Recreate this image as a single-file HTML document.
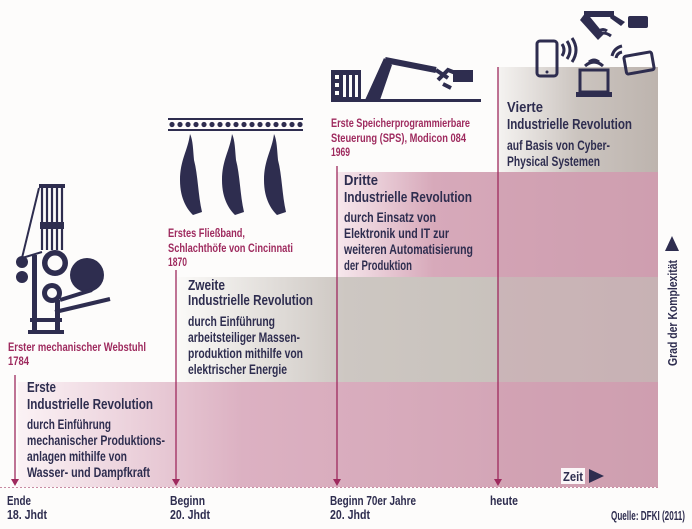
<!DOCTYPE html>
<html><head><meta charset="utf-8"><style>
html,body{margin:0;padding:0;background:#fdfcfb;}
svg{display:block;}
text{font-family:"Liberation Sans Narrow","Liberation Sans",sans-serif;}
.t{font-weight:bold;font-size:15px;fill:#2e2d4f;}
.b{font-size:13.5px;fill:#2e2d4f;font-weight:bold;}
.m{font-size:12px;fill:#9e2a5e;font-weight:bold;}
.k{font-size:12.5px;fill:#2e2d4f;font-weight:bold;}
</style></head><body>
<svg width="692" height="529" viewBox="0 0 692 529" xmlns="http://www.w3.org/2000/svg">
<defs>
<linearGradient id="p1" x1="0" x2="1"><stop offset="0" stop-color="#fbf2f5"/><stop offset="0.35" stop-color="#dcb1c2"/><stop offset="1" stop-color="#cf9fb0"/></linearGradient>
<linearGradient id="g2" x1="0" x2="1"><stop offset="0" stop-color="#fbfaf8"/><stop offset="0.35" stop-color="#cdc7c2"/><stop offset="1" stop-color="#c4bdb7"/></linearGradient>
<linearGradient id="p3" x1="0" x2="1"><stop offset="0" stop-color="#f7e8ed"/><stop offset="0.3" stop-color="#d7a9ba"/><stop offset="1" stop-color="#cf9fb0"/></linearGradient>
<linearGradient id="g4" x1="0" x2="1"><stop offset="0" stop-color="#f5f3f1"/><stop offset="0.5" stop-color="#cbc4bf"/><stop offset="1" stop-color="#bdb4ae"/></linearGradient>
</defs>
<rect width="692" height="529" fill="#fdfcfb"/>
<rect x="18" y="382" width="640" height="105" fill="url(#p1)"/>
<rect x="177" y="277" width="481" height="105" fill="url(#g2)"/>
<rect x="337" y="172" width="321" height="105" fill="url(#p3)"/>
<rect x="498" y="67" width="160" height="105" fill="url(#g4)"/>
<rect x="498" y="172" width="160" height="315" fill="#cf9fb0" opacity="0.35"/>
<line x1="0" y1="487.5" x2="660" y2="487.5" stroke="#c88aa2" stroke-width="1" stroke-dasharray="2,2"/>
<g stroke="#9e2a5e" stroke-width="1.3">
<line x1="15" y1="375" x2="15" y2="480"/>
<line x1="176" y1="270" x2="176" y2="480"/>
<line x1="337" y1="166" x2="337" y2="480"/>
<line x1="498" y1="67" x2="498" y2="480"/>
</g>
<g fill="#9e2a5e">
<polygon points="11,479 19,479 15,486"/>
<polygon points="172,479 180,479 176,486"/>
<polygon points="333,479 341,479 337,486"/>
<polygon points="494,479 502,479 498,486"/>
</g>
<!-- Block 1 -->
<text class="m" x="8" y="351" textLength="138" lengthAdjust="spacingAndGlyphs">Erster mechanischer Webstuhl</text>
<text class="m" x="8" y="365" textLength="21" lengthAdjust="spacingAndGlyphs">1784</text>
<text class="t" x="27" y="392" textLength="29" lengthAdjust="spacingAndGlyphs">Erste</text>
<text class="t" x="27" y="409" textLength="126" lengthAdjust="spacingAndGlyphs">Industrielle Revolution</text>
<text class="b" x="27" y="429" textLength="84" lengthAdjust="spacingAndGlyphs">durch Einführung</text>
<text class="b" x="27" y="445" textLength="138" lengthAdjust="spacingAndGlyphs">mechanischer Produktions-</text>
<text class="b" x="27" y="461" textLength="100" lengthAdjust="spacingAndGlyphs">anlagen mithilfe von</text>
<text class="b" x="27" y="477" textLength="123" lengthAdjust="spacingAndGlyphs">Wasser- und Dampfkraft</text>
<!-- Block 2 -->
<text class="m" x="168" y="237" textLength="77" lengthAdjust="spacingAndGlyphs">Erstes Fließband,</text>
<text class="m" x="168" y="252" textLength="125" lengthAdjust="spacingAndGlyphs">Schlachthöfe von Cincinnati</text>
<text class="m" x="168" y="266" textLength="19" lengthAdjust="spacingAndGlyphs">1870</text>
<text class="t" x="188" y="290" textLength="37" lengthAdjust="spacingAndGlyphs">Zweite</text>
<text class="t" x="188" y="305" textLength="125" lengthAdjust="spacingAndGlyphs">Industrielle Revolution</text>
<text class="b" x="188" y="326" textLength="87" lengthAdjust="spacingAndGlyphs">durch Einführung</text>
<text class="b" x="188" y="342" textLength="112" lengthAdjust="spacingAndGlyphs">arbeitsteiliger Massen-</text>
<text class="b" x="188" y="358" textLength="115" lengthAdjust="spacingAndGlyphs">produktion mithilfe von</text>
<text class="b" x="188" y="374" textLength="99" lengthAdjust="spacingAndGlyphs">elektrischer Energie</text>
<!-- Block 3 -->
<text class="m" x="331" y="127" textLength="139" lengthAdjust="spacingAndGlyphs">Erste Speicherprogrammierbare</text>
<text class="m" x="331" y="142" textLength="135" lengthAdjust="spacingAndGlyphs">Steuerung (SPS), Modicon 084</text>
<text class="m" x="331" y="156" textLength="19" lengthAdjust="spacingAndGlyphs">1969</text>
<text class="t" x="344" y="185" textLength="34" lengthAdjust="spacingAndGlyphs">Dritte</text>
<text class="t" x="344" y="202" textLength="128" lengthAdjust="spacingAndGlyphs">Industrielle Revolution</text>
<text class="b" x="344" y="222" textLength="92" lengthAdjust="spacingAndGlyphs">durch Einsatz von</text>
<text class="b" x="344" y="238" textLength="105" lengthAdjust="spacingAndGlyphs">Elektronik und IT zur</text>
<text class="b" x="344" y="254" textLength="129" lengthAdjust="spacingAndGlyphs">weiteren Automatisierung</text>
<text class="b" x="344" y="270" textLength="68" lengthAdjust="spacingAndGlyphs">der Produktion</text>
<!-- Block 4 -->
<text class="t" x="507" y="112" textLength="36" lengthAdjust="spacingAndGlyphs">Vierte</text>
<text class="t" x="507" y="129" textLength="125" lengthAdjust="spacingAndGlyphs">Industrielle Revolution</text>
<text class="b" x="507" y="150" textLength="103" lengthAdjust="spacingAndGlyphs">auf Basis von Cyber-</text>
<text class="b" x="507" y="166" textLength="93" lengthAdjust="spacingAndGlyphs">Physical Systemen</text>
<!-- bottom labels -->
<text class="k" x="7" y="505" textLength="24" lengthAdjust="spacingAndGlyphs">Ende</text>
<text class="k" x="7" y="519" textLength="40" lengthAdjust="spacingAndGlyphs">18. Jhdt</text>
<text class="k" x="170" y="505" textLength="35" lengthAdjust="spacingAndGlyphs">Beginn</text>
<text class="k" x="170" y="519" textLength="40" lengthAdjust="spacingAndGlyphs">20. Jhdt</text>
<text class="k" x="330" y="505" textLength="86" lengthAdjust="spacingAndGlyphs">Beginn 70er Jahre</text>
<text class="k" x="330" y="519" textLength="40" lengthAdjust="spacingAndGlyphs">20. Jhdt</text>
<text class="k" x="490" y="505" textLength="28" lengthAdjust="spacingAndGlyphs">heute</text>
<text class="k" x="685" y="520" text-anchor="end" font-size="11" textLength="74" lengthAdjust="spacingAndGlyphs">Quelle: DFKI (2011)</text>
<!-- axes -->
<rect x="561" y="468" width="24" height="16" fill="#fff" opacity="0.9"/>
<text class="k" x="563" y="481" textLength="20" lengthAdjust="spacingAndGlyphs">Zeit</text>
<polygon points="589,469 604,476 589,483" fill="#2e2d4f"/>
<polygon points="665,251 679,251 672,236" fill="#2e2d4f"/>
<text class="k" transform="translate(677,366) rotate(-90)" textLength="106" lengthAdjust="spacingAndGlyphs">Grad der Komplexität</text>
<!-- Loom icon -->
<g fill="#2e2d4f" stroke="#2e2d4f">
<rect x="39" y="184" width="26" height="4" stroke="none"/>
<g stroke-width="2.2"><line x1="42" y1="186" x2="42" y2="250"/><line x1="47" y1="186" x2="47" y2="250"/><line x1="52" y1="186" x2="52" y2="250"/><line x1="57" y1="186" x2="57" y2="250"/><line x1="62" y1="186" x2="62" y2="250"/></g>
<rect x="40" y="222" width="24" height="7" stroke="none"/>
<line x1="39" y1="188" x2="22" y2="258" stroke-width="2"/>
<line x1="22" y1="258" x2="42" y2="252" stroke-width="2"/>
<circle cx="22" cy="262" r="6" stroke="none"/>
<circle cx="22" cy="277" r="6" stroke="none"/>
<circle cx="55" cy="263" r="13" stroke="none"/>
<circle cx="87" cy="275" r="17" stroke="none"/>
<circle cx="52" cy="293" r="10" stroke="none"/>
<rect x="32" y="255" width="5" height="77" stroke="none"/>
<rect x="55" y="300" width="5" height="32" stroke="none"/>
<rect x="30" y="318" width="32" height="4" stroke="none"/>
<rect x="28" y="330" width="36" height="4" stroke="none"/>
<line x1="55" y1="312" x2="110" y2="299" stroke-width="4"/>
<line x1="60" y1="300" x2="92" y2="290" stroke-width="4"/>
</g>
<circle cx="55" cy="263" r="7.5" fill="#fdfcfb"/>
<circle cx="52" cy="293" r="5" fill="#fdfcfb"/>
<!-- conveyor -->
<rect x="168" y="118" width="135" height="2" fill="#2e2d4f"/>
<rect x="168" y="129" width="135" height="2" fill="#2e2d4f"/>
<g fill="#2e2d4f">
<circle cx="172" cy="124.5" r="2.6"/><circle cx="180" cy="124.5" r="2.6"/><circle cx="188" cy="124.5" r="2.6"/><circle cx="196" cy="124.5" r="2.6"/><circle cx="204" cy="124.5" r="2.6"/><circle cx="212" cy="124.5" r="2.6"/><circle cx="220" cy="124.5" r="2.6"/><circle cx="228" cy="124.5" r="2.6"/><circle cx="236" cy="124.5" r="2.6"/><circle cx="244" cy="124.5" r="2.6"/><circle cx="252" cy="124.5" r="2.6"/><circle cx="260" cy="124.5" r="2.6"/><circle cx="268" cy="124.5" r="2.6"/><circle cx="276" cy="124.5" r="2.6"/><circle cx="284" cy="124.5" r="2.6"/><circle cx="292" cy="124.5" r="2.6"/><circle cx="300" cy="124.5" r="2.6"/>
<path d="M190,134 C188,150 180,160 180,180 C180,200 188,210 193,215 L202,212 C198,195 198,175 194,160 C193,150 193,140 190,134Z"/>
<path d="M232,134 C230,150 222,160 222,180 C222,200 230,210 235,215 L244,212 C240,195 240,175 236,160 C235,150 235,140 232,134Z"/>
<path d="M274,134 C272,150 264,160 264,180 C264,200 272,210 277,215 L286,212 C282,195 282,175 278,160 C277,150 277,140 274,134Z"/>
</g>
<!-- SPS robot -->
<g fill="#2e2d4f" stroke="#2e2d4f">
<rect x="331" y="70" width="30" height="30" stroke="none"/>
<rect x="331" y="99" width="150" height="3" stroke="none"/>
<polygon points="365,100 380,100 392,65 384,58" stroke="none"/>
<line x1="385" y1="60" x2="436" y2="70" stroke-width="6"/>
<line x1="436" y1="70" x2="448" y2="78" stroke-width="4"/>
<path d="M438,80 L448,70 L458,74 M443,84 L451,88" fill="none" stroke-width="4"/>
<rect x="453" y="70" width="20" height="12" stroke="none"/>
</g>
<g fill="#fdfcfb"><rect x="335" y="75" width="4" height="4"/><rect x="335" y="83" width="4" height="4"/><rect x="335" y="91" width="4" height="4"/><rect x="343" y="75" width="3" height="22"/><rect x="349" y="75" width="3" height="22"/><rect x="355" y="75" width="3" height="22"/></g>
<!-- Top right devices -->
<g fill="none" stroke="#2e2d4f" stroke-width="3">
<rect x="537" y="41" width="20" height="35" rx="3"/>
<path d="M562,44 q4,6 0,12 M567,41 q6,9 0,18 M572,38 q8,12 0,24"/>
<rect x="580" y="70" width="28" height="22"/>
<path d="M585,66 q9,-8 18,0 M589,62 q5,-4 10,0"/>
<rect x="625" y="54" width="28" height="18" rx="2" transform="rotate(-10 639 63)"/>
<path d="M612,56 q2,-8 10,-10 M616,58 q1,-5 6,-6"/>
<path d="M595,36 q8,-6 16,0 M599,31 q4,-3 8,0"/>
</g>
<g fill="#2e2d4f">
<rect x="576" y="92" width="36" height="5"/>
<polygon points="580,20 586,12 604,34 598,40"/>
<rect x="584" y="11" width="30" height="6"/>
<polygon points="612,14 625,22 621,26 610,18"/>
<rect x="628" y="16" width="20" height="12" rx="2"/>
<circle cx="547" cy="72" r="1.5"/>
</g>
</svg>
</body></html>
